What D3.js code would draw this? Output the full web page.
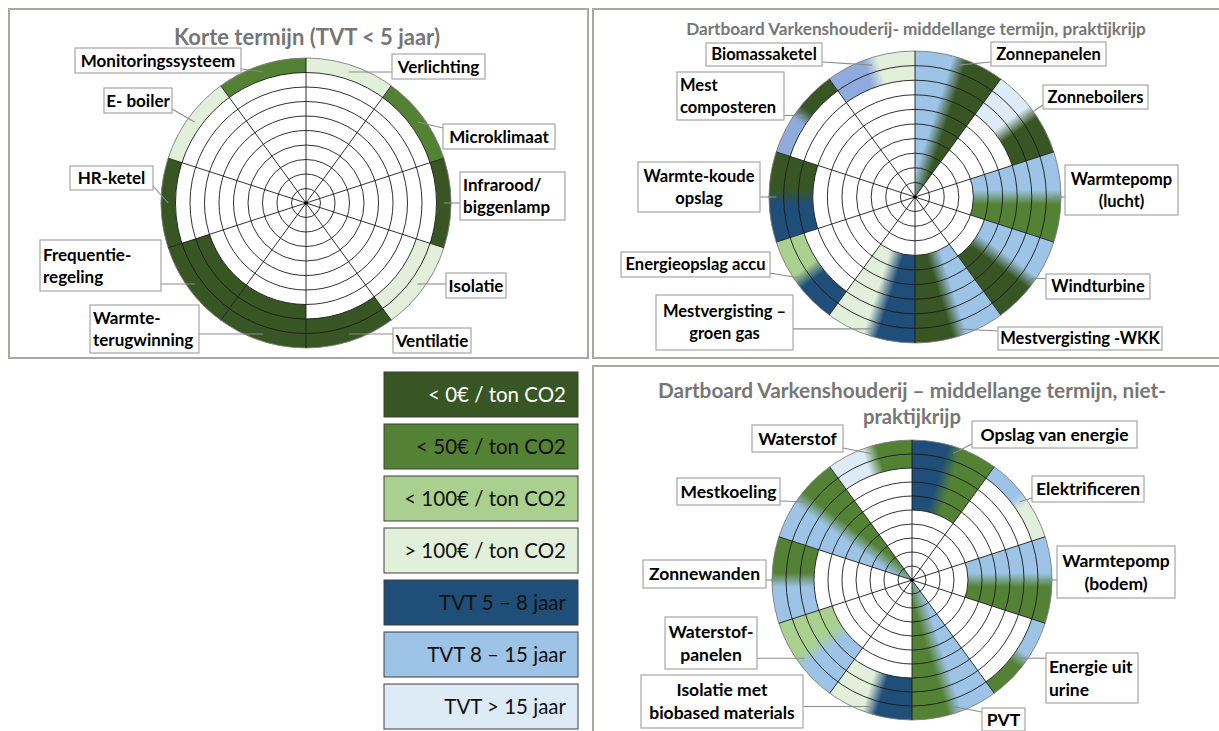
<!DOCTYPE html>
<html>
<head>
<meta charset="utf-8">
<script src="https://cdn.jsdelivr.net/npm/d3@7"></script>
<style>
  body { margin: 0; background: #fff; }
  svg { display: block; font-family: Lato, "Open Sans", sans-serif; }
</style>
</head>
<body>
<script>
// colour classes (cost per ton CO2 and payback time)
var classKeys = ["lt0", "lt50", "lt100", "gt100", "tvt5", "tvt8", "tvt15", "tvt8b"];
var classColors = ["#375623", "#548235", "#a9d08e", "#e2efda", "#1f4e79", "#9dc3e6", "#ddebf7", "#8faadc"];

// legend
var legendKeys = ["lt0", "lt50", "lt100", "gt100", "tvt5", "tvt8", "tvt15"];
var legendLabels = ["< 0€ / ton CO2", "< 50€ / ton CO2", "< 100€ / ton CO2", "> 100€ / ton CO2",
                    "TVT 5 – 8 jaar", "TVT 8 – 15 jaar", "TVT > 15 jaar"];

// board 1: korte termijn
var title1 = ["Korte termijn (TVT < 5 jaar)"];
var cats1 = ["Verlichting", "Microklimaat", "Infrarood/\nbiggenlamp", "Isolatie", "Ventilatie",
             "Warmte-\nterugwinning", "Frequentie-\nregeling", "HR-ketel", "E- boiler", "Monitoringssysteem"];
var rings1 = [1, 1, 1, 2, 2, 3, 3, 1, 1, 1];
var colorA1 = ["gt100", "lt50", "lt0", "gt100", "lt0", "lt0", "lt0", "lt0", "gt100", "lt50"];
var colorB1 = colorA1;

// board 2: middellange termijn, praktijkrijp
var title2 = ["Dartboard Varkenshouderij- middellange termijn, praktijkrijp"];
var cats2 = ["Zonnepanelen", "Zonneboilers", "Warmtepomp\n(lucht)", "Windturbine", "Mestvergisting -WKK",
             "Mestvergisting –\ngroen gas", "Energieopslag accu", "Warmte-koude\nopslag", "Mest\ncomposteren", "Biomassaketel"];
var rings2 = [10, 3, 6, 5, 6, 6, 2, 3, 1, 2];
var colorA2 = ["tvt8", "tvt15", "tvt8", "tvt8", "tvt8", "tvt5", "tvt5", "tvt5", "tvt8b", "tvt8b"];
var colorB2 = ["lt0", "lt0", "lt50", "lt0", "lt0", "gt100", "lt100", "lt0", "lt0", "gt100"];

// board 3: middellange termijn, niet-praktijkrijp
var title3 = ["Dartboard Varkenshouderij – middellange termijn, niet-", "praktijkrijp"];
var cats3 = ["Opslag van energie", "Elektrificeren", "Warmtepomp\n(bodem)", "Energie uit\nurine", "PVT",
             "Isolatie met\nbiobased materials", "Waterstof-\npanelen", "Zonnewanden", "Mestkoeling", "Waterstof"];
var rings3 = [5, 1, 6, 1, 10, 3, 4, 3, 10, 2];
var colorA3 = ["tvt5", "tvt8", "tvt8", "tvt8", "tvt8", "tvt5", "tvt8", "tvt8", "tvt8", "tvt15"];
var colorB3 = ["lt50", "gt100", "lt50", "lt50", "lt50", "gt100", "lt100", "lt50", "lt50", "lt50"];

// label box placement (annotation layout, not data)
var boxes1 = [
  {x: 392, y: 54, w: 93, h: 25}, {x: 443, y: 124, w: 112, h: 25},
  {x: 460, y: 172, w: 105, h: 48, align: "start"}, {x: 446, y: 273, w: 60, h: 25},
  {x: 393, y: 328, w: 78, h: 25}, {x: 90, y: 305, w: 109, h: 48, align: "start"},
  {x: 40, y: 240, w: 121, h: 51, align: "start"}, {x: 70, y: 166, w: 83, h: 24},
  {x: 104, y: 88, w: 68, h: 25}, {x: 75, y: 48, w: 166, h: 25}
];
var boxes2 = [
  {x: 991, y: 42, w: 115, h: 24}, {x: 1043, y: 85, w: 105, h: 24},
  {x: 1065, y: 165, w: 113, h: 50}, {x: 1046, y: 274, w: 104, h: 25},
  {x: 998, y: 327, w: 164, h: 23}, {x: 656, y: 295, w: 137, h: 55},
  {x: 621, y: 252, w: 149, h: 25}, {x: 638, y: 162, w: 122, h: 50},
  {x: 677, y: 72, w: 107, h: 48, align: "start"}, {x: 706, y: 43, w: 116, h: 23}
];
var boxes3 = [
  {x: 972, y: 421, w: 165, h: 27}, {x: 1032, y: 476, w: 112, h: 26},
  {x: 1057, y: 546, w: 118, h: 52}, {x: 1046, y: 653, w: 92, h: 50, align: "start"},
  {x: 982, y: 708, w: 43, h: 23}, {x: 641, y: 675, w: 162, h: 53},
  {x: 665, y: 617, w: 92, h: 52}, {x: 643, y: 560, w: 123, h: 28},
  {x: 677, y: 478, w: 103, h: 27}, {x: 752, y: 425, w: 91, h: 27}
];

// global properties
var p = {
  width: 1219,
  height: 731,
  rings: 10,
  blend: 7,          // half width of the colour transition in a segment
  gridColor: "#1a1a1a",
  frameColor: "#aba7a3",
  titleColor: "#767676"
};

var color = d3.scaleOrdinal().domain(classKeys).range(classColors);

var svg = d3.select("body").append("svg").attr("width", p.width).attr("height", p.height);
var defs = svg.append("defs");

// shrink or grow a text so it spans the given width
function fitWidth(sel, target) {
  var w = sel.node().getComputedTextLength();
  var fs = parseFloat(sel.attr("font-size"));
  sel.attr("font-size", fs * target / w);
}

function frame(x, y, w, h) {
  svg.append("rect").attr("x", x).attr("y", y).attr("width", w).attr("height", h)
     .attr("fill", "none").attr("stroke", p.frameColor).attr("stroke-width", 2);
}

function drawBoard(b) {
  var n = b.cats.length;
  var angle = d3.scaleLinear().domain([0, n]).range([0, 2 * Math.PI]);
  var radius = d3.scaleLinear().domain([0, p.rings]).range([0, b.r]);
  var arc = d3.arc();
  var g = svg.append("g").attr("transform", "translate(" + b.cx + "," + b.cy + ")");

  // title
  b.title.forEach(function(t, i) {
    var tt = svg.append("text").attr("x", b.titleX).attr("y", b.titleY[i])
       .attr("text-anchor", "middle").attr("font-weight", 700).attr("font-size", b.titleSize)
       .attr("fill", p.titleColor).text(t);
    fitWidth(tt, b.titleW[i]);
  });

  // coloured segments
  b.cats.forEach(function(c, i) {
    var a0 = angle(i), a1 = angle(i + 1), am = (a0 + a1) / 2;
    var fill = color(b.colorA[i]);
    if (b.colorA[i] !== b.colorB[i]) {
      // linear blend across the segment, split along its bisector
      var id = b.id + "-g" + i;
      var gr = defs.append("linearGradient").attr("id", id)
        .attr("gradientUnits", "userSpaceOnUse")
        .attr("x1", -p.blend * Math.cos(am)).attr("y1", -p.blend * Math.sin(am))
        .attr("x2", p.blend * Math.cos(am)).attr("y2", p.blend * Math.sin(am));
      gr.append("stop").attr("offset", 0).attr("stop-color", color(b.colorA[i]));
      gr.append("stop").attr("offset", 1).attr("stop-color", color(b.colorB[i]));
      fill = "url(#" + id + ")";
    }
    g.append("path")
      .attr("d", arc({innerRadius: radius(p.rings - b.values[i]), outerRadius: radius(p.rings),
                      startAngle: a0, endAngle: a1}))
      .attr("fill", fill);
  });

  // grid rings
  g.selectAll("circle.ring").data(d3.range(1, p.rings + 1)).join("circle")
    .attr("class", "ring").attr("r", function(k) { return radius(k); })
    .attr("fill", "none").attr("stroke", function(k) { return k === p.rings ? "#7f7f7f" : p.gridColor; })
    .attr("stroke-width", 0.9);

  // spokes
  g.selectAll("line.spoke").data(d3.range(n)).join("line")
    .attr("class", "spoke")
    .attr("x2", function(i) { return b.r * Math.sin(angle(i)); })
    .attr("y2", function(i) { return -b.r * Math.cos(angle(i)); })
    .attr("stroke", p.gridColor).attr("stroke-width", 0.9);

  g.append("circle").attr("r", 1.8).attr("fill", "#000");

  // callout labels
  b.cats.forEach(function(c, i) {
    var bx = b.boxes[i];
    var am = (angle(i) + angle(i + 1)) / 2;
    var rr = radius(p.rings - 0.5);
    var tx = b.cx + rr * Math.sin(am), ty = b.cy - rr * Math.cos(am);
    var sx = Math.max(bx.x, Math.min(bx.x + bx.w, tx));
    var sy = Math.max(bx.y + 4, Math.min(bx.y + bx.h - 4, ty));
    svg.append("line").attr("x1", sx).attr("y1", sy).attr("x2", tx).attr("y2", ty)
      .attr("stroke", "#8c8c8c").attr("stroke-width", 1.1);
    svg.append("rect").attr("x", bx.x).attr("y", bx.y).attr("width", bx.w).attr("height", bx.h)
      .attr("fill", "#fff").attr("stroke", "#a6a6a6").attr("stroke-width", 1.2);
    var lines = c.split("\n");
    var mid = bx.y + bx.h / 2;
    var anchor = bx.align || "middle";
    var x = anchor === "start" ? bx.x + 3 : bx.x + bx.w / 2;
    lines.forEach(function(l, j) {
      var y = mid + (j - (lines.length - 1) / 2) * b.lineGap + b.labelSize * 0.36;
      svg.append("text").attr("x", x).attr("y", y).attr("text-anchor", anchor)
        .attr("font-weight", 700).attr("font-size", b.labelSize).attr("fill", "#000").text(l);
    });
  });
}

// panel frames
frame(9, 9, 579, 349);
frame(593, 9, 640, 349);
frame(593, 366, 640, 380);

drawBoard({id: "b1", cx: 306, cy: 203, r: 145, cats: cats1, values: rings1, colorA: colorA1, colorB: colorB1,
           boxes: boxes1, title: title1, titleX: 307, titleY: [45], titleW: [266], titleSize: 22,
           labelSize: 17, lineGap: 22});
drawBoard({id: "b2", cx: 915, cy: 197, r: 146, cats: cats2, values: rings2, colorA: colorA2, colorB: colorB2,
           boxes: boxes2, title: title2, titleX: 916, titleY: [35], titleW: [460], titleSize: 16,
           labelSize: 16.5, lineGap: 22});
drawBoard({id: "b3", cx: 912, cy: 580, r: 140, cats: cats3, values: rings3, colorA: colorA3, colorB: colorB3,
           boxes: boxes3, title: title3, titleX: 912, titleY: [398, 424], titleW: [508, 98], titleSize: 20,
           labelSize: 17.5, lineGap: 23});

// legend
var legend = svg.append("g");
legendKeys.forEach(function(k, i) {
  var y = 372 + i * 52;
  legend.append("rect").attr("x", 384).attr("y", y).attr("width", 194).attr("height", 45)
    .attr("fill", color(k)).attr("stroke", "#3f3f3f").attr("stroke-width", 1);
  legend.append("text").attr("x", 566).attr("y", y + 30).attr("text-anchor", "end")
    .attr("font-size", 20.5).attr("fill", k === "lt0" ? "#fff" : "#111").text(legendLabels[i]);
});
</script>
</body>
</html>
